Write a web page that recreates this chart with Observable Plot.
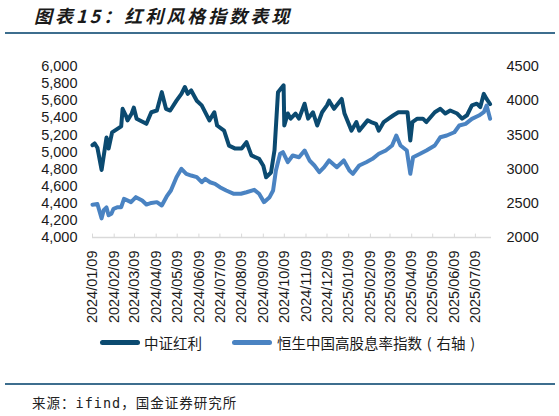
<!DOCTYPE html>
<html>
<head>
<meta charset="utf-8">
<script src="https://cdn.jsdelivr.net/npm/d3@7"></script>
<script src="https://cdn.jsdelivr.net/npm/@observablehq/plot@0.6"></script>
<style>
  body { margin: 0; background: #fff; width: 559px; height: 416px; position: relative; overflow: hidden; }
  #title { position: absolute; left: 34px; top: 2px; font: italic bold 18px "Noto Sans CJK SC"; letter-spacing: 3px; color: #1a1a1a; white-space: nowrap; }
  .rule { position: absolute; left: 5px; width: 550px; height: 2px; background: #3d6e8e; }
  #chart { position: absolute; left: 0; top: 45px; }
  .sw { position: absolute; top: 340px; width: 40px; height: 5px; border-radius: 3px; }
  .lt { position: absolute; top: 332px; font: 14.5px "Noto Sans CJK SC"; color: #1a1a1a; white-space: nowrap; }
  .lt .p { display: inline-block; width: 14.5px; text-align: center; }
  #source { position: absolute; left: 32px; top: 392px; font: 13.5px "DejaVu Sans Mono", "Noto Sans CJK SC"; letter-spacing: 1px; color: #222; white-space: nowrap; }
</style>
</head>
<body>
<div id="title">图表15：红利风格指数表现</div>
<div class="rule" style="top:32px"></div>
<div id="chart"></div>
<div class="sw" style="left:100px;background:#0b4a70"></div>
<div class="lt" style="left:144px">中证红利</div>
<div class="sw" style="left:232px;background:#4a83c2"></div>
<div class="lt" style="left:277px">恒生中国高股息率指数<span class="p">(</span>右轴<span class="p">)</span></div>
<div class="rule" style="top:383px"></div>
<div id="source">来源：ifind，国金证券研究所</div>
<script>
// 中证红利 (left axis)
const csiDates = ["2024-01-09","2024-01-12","2024-01-16","2024-01-22","2024-01-29","2024-02-01","2024-02-06","2024-02-19","2024-02-21","2024-02-26","2024-02-28","2024-03-05","2024-03-08","2024-03-12","2024-03-19","2024-03-26","2024-04-02","2024-04-10","2024-04-17","2024-04-23","2024-04-29","2024-05-08","2024-05-15","2024-05-20","2024-05-24","2024-05-29","2024-06-06","2024-06-13","2024-06-24","2024-07-01","2024-07-05","2024-07-15","2024-07-22","2024-07-31","2024-08-09","2024-08-16","2024-08-23","2024-09-03","2024-09-09","2024-09-13","2024-09-20","2024-09-25","2024-09-30","2024-10-08","2024-10-09","2024-10-14","2024-10-18","2024-10-25","2024-10-30","2024-11-07","2024-11-12","2024-11-19","2024-11-25","2024-12-02","2024-12-09","2024-12-12","2024-12-19","2024-12-30","2025-01-03","2025-01-13","2025-01-20","2025-01-24","2025-02-05","2025-02-10","2025-02-17","2025-02-21","2025-02-28","2025-03-07","2025-03-14","2025-03-21","2025-03-28","2025-04-03","2025-04-07","2025-04-10","2025-04-17","2025-04-25","2025-04-30","2025-05-12","2025-05-20","2025-05-27","2025-06-03","2025-06-13","2025-06-20","2025-06-27","2025-07-04","2025-07-11","2025-07-16","2025-07-21","2025-07-25","2025-07-30"];
const csiValues = [5080,5100,5050,4790,5170,5040,5230,5300,5505,5420,5370,5450,5520,5390,5360,5330,5465,5485,5700,5505,5485,5600,5680,5760,5680,5720,5600,5545,5370,5465,5310,5250,5075,5040,5040,5115,4960,4920,4840,4705,4760,5020,5700,5780,5310,5450,5390,5450,5390,5565,5390,5465,5310,5465,5545,5600,5505,5620,5450,5250,5350,5250,5370,5350,5330,5250,5350,5390,5430,5465,5465,5465,5135,5350,5390,5390,5350,5465,5505,5450,5485,5450,5390,5430,5545,5565,5525,5680,5620,5560];

// 恒生中国高股息率指数 (right axis)
const hsDates = ["2024-01-09","2024-01-16","2024-01-22","2024-01-25","2024-01-29","2024-02-01","2024-02-05","2024-02-08","2024-02-14","2024-02-19","2024-02-23","2024-03-04","2024-03-11","2024-03-20","2024-03-26","2024-04-02","2024-04-10","2024-04-17","2024-04-24","2024-04-30","2024-05-08","2024-05-15","2024-05-22","2024-05-29","2024-06-06","2024-06-13","2024-06-18","2024-06-25","2024-07-02","2024-07-09","2024-07-18","2024-07-29","2024-08-08","2024-08-16","2024-08-27","2024-09-03","2024-09-10","2024-09-18","2024-09-23","2024-09-27","2024-10-03","2024-10-07","2024-10-14","2024-10-21","2024-10-30","2024-11-07","2024-11-14","2024-11-21","2024-11-28","2024-12-05","2024-12-12","2024-12-23","2025-01-02","2025-01-10","2025-01-15","2025-01-24","2025-02-03","2025-02-12","2025-02-21","2025-03-03","2025-03-12","2025-03-18","2025-03-24","2025-04-02","2025-04-07","2025-04-11","2025-04-21","2025-04-30","2025-05-12","2025-05-20","2025-05-29","2025-06-09","2025-06-16","2025-06-25","2025-07-04","2025-07-14","2025-07-21","2025-07-25","2025-07-30"];
const hsValues = [2480,2490,2280,2400,2440,2325,2346,2420,2443,2443,2566,2517,2590,2541,2482,2505,2517,2468,2600,2687,2882,3004,2931,2906,2882,2808,2857,2808,2785,2735,2687,2639,2639,2662,2697,2639,2517,2590,2687,2980,3224,3247,3101,3199,3174,3272,3126,3053,2955,3028,3126,3028,3126,2980,2931,3053,3101,3150,3224,3272,3345,3491,3345,3272,2931,3174,3224,3272,3345,3466,3491,3539,3637,3662,3735,3783,3832,3930,3735];

const tickLabels = ["2024/01/09","2024/02/09","2024/03/09","2024/04/09","2024/05/09","2024/06/09","2024/07/09","2024/08/09","2024/09/09","2024/10/09","2024/11/09","2024/12/09","2025/01/09","2025/02/09","2025/03/09","2025/04/09","2025/05/09","2025/06/09","2025/07/09"];
const leftTicks = [4000,4200,4400,4600,4800,5000,5200,5400,5600,5800,6000];
const rightTicks = [2000,2500,3000,3500,4000,4500];

const parse = d3.utcParse("%Y-%m-%d");
const tickDates = tickLabels.map(d3.utcParse("%Y/%m/%d"));
const csi = csiDates.map((d, i) => ({date: parse(d), value: csiValues[i]}));
const hs = hsDates.map((d, i) => ({date: parse(d), value: hsValues[i]}));

// right axis 2000–4500 mapped onto left 4000–6000
const toLeft = v => 4000 + (v - 2000) * 0.8;
const toRight = v => Math.round(2000 + (v - 4000) / 0.8);

const chart = Plot.plot({
  width: 559,
  height: 290,
  marginLeft: 92,
  marginRight: 68,
  marginTop: 21,
  marginBottom: 98,
  style: {fontFamily: "Liberation Sans, Arial, sans-serif", fontSize: "14.5px", color: "#1a1a1a", background: "transparent", overflow: "visible"},
  x: {type: "utc", domain: [parse("2024-01-09"), parse("2025-08-01")]},
  y: {domain: [4000, 6000]},
  marks: [
    Plot.axisY(leftTicks, {tickFormat: d3.format(","), tickSize: 0, tickPadding: 15, label: null}),
    Plot.axisY(rightTicks.map(toLeft), {anchor: "right", tickFormat: d => String(toRight(d)), tickSize: 0, tickPadding: 15, label: null}),
    Plot.axisX(tickDates, {tickFormat: d3.utcFormat("%Y/%m/%d"), tickRotate: -90, tickSize: 0, tickPadding: 13, label: null}),
    Plot.ruleY([4000], {stroke: "#d9d9d9", strokeWidth: 1.5}),
    Plot.ruleX(tickDates, {y1: 4000, y2: 4040, stroke: "#d9d9d9"}),
    Plot.lineY(csi, {x: "date", y: "value", stroke: "#0b4a70", strokeWidth: 4}),
    Plot.lineY(hs, {x: "date", y: d => toLeft(d.value), stroke: "#4a83c2", strokeWidth: 4})
  ]
});

document.getElementById("chart").append(chart);
</script>
</body>
</html>
